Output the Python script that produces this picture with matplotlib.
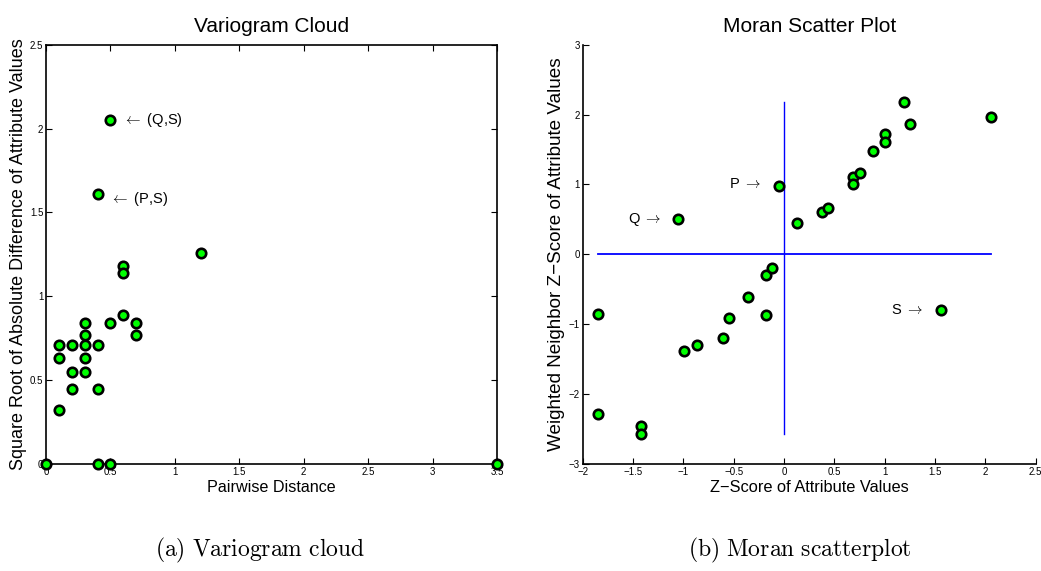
import matplotlib
matplotlib.use("Agg")
import matplotlib.pyplot as plt

plt.rcParams["font.family"] = ["Liberation Sans", "DejaVu Sans"]
plt.rcParams["mathtext.fontset"] = "cm"

# Variogram cloud: pairwise distance vs sqrt of abs difference
dist = [0, 3.5, 0.4, 0.5,
        0.1, 0.1, 0.1,
        0.2, 0.2, 0.2,
        0.3, 0.3, 0.3, 0.3, 0.3,
        0.4, 0.4, 0.4,
        0.5, 0.5,
        0.6, 0.6, 0.6,
        0.7, 0.7,
        1.2]
sqrt_diff = [0, 0, 0, 0,
             0.32, 0.63, 0.71,
             0.71, 0.55, 0.45,
             0.84, 0.77, 0.71, 0.63, 0.55,
             1.61, 0.71, 0.45,
             2.05, 0.84,
             1.18, 1.14, 0.89,
             0.84, 0.77,
             1.26]

# Moran scatter plot: z-score vs weighted neighbour z-score
z = [-1.85, -1.85, -1.42, -1.42, -1.05, -0.99, -0.86, -0.61, -0.55,
     -0.36, -0.18, -0.12, -0.18, -0.05, 0.13, 0.38, 0.44, 0.69, 0.69,
     0.75, 0.88, 1.0, 1.0, 1.19, 1.25, 1.56, 2.06]
wz = [-0.86, -2.29, -2.45, -2.57, 0.51, -1.38, -1.30, -1.20, -0.91,
      -0.61, -0.29, -0.19, -0.87, 0.98, 0.45, 0.60, 0.67, 1.10, 1.01,
      1.17, 1.48, 1.72, 1.61, 2.18, 1.86, -0.80, 1.96]

fig = plt.figure(figsize=(10.41, 5.71), dpi=100)

mk = dict(linestyle="none", marker="o", markersize=6.8, markerfacecolor="#00ff00",
          markeredgecolor="black", markeredgewidth=1.9, clip_on=False, zorder=3)

# ---- left: variogram cloud
ax1 = fig.add_axes([0.0442, 0.1874, 0.4332, 0.7343])
ax1.plot(dist, sqrt_diff, **mk)
ax1.set_xlim(0, 3.5)
ax1.set_ylim(0, 2.5)
ax1.set_xticks([0, 0.5, 1, 1.5, 2, 2.5, 3, 3.5])
ax1.set_xticklabels(["0", "0.5", "1", "1.5", "2", "2.5", "3", "3.5"])
ax1.set_yticks([0, 0.5, 1, 1.5, 2, 2.5])
ax1.set_yticklabels(["0", "0.5", "1", "1.5", "2", "2.5"])
ax1.tick_params(direction="in", top=True, right=True, labelsize=7, length=4, pad=2)
for s in ax1.spines.values():
    s.set_linewidth(1.2)
ax1.set_title("Variogram Cloud", fontsize=15, pad=9)
ax1.set_xlabel("Pairwise Distance", fontsize=11.6, labelpad=2)
ax1.set_ylabel("Square Root of Absolute Difference of Attribute Values", fontsize=13, labelpad=2)
ax1.text(0.6, 2.05, r"$\leftarrow$ (Q,S)", fontsize=10.5, va="center", ha="left")
ax1.text(0.5, 1.58, r"$\leftarrow$ (P,S)", fontsize=10.5, va="center", ha="left")

# ---- right: Moran scatter plot
ax2 = fig.add_axes([0.5597, 0.1874, 0.4352, 0.7343])
ax2.plot([min(z), max(z)], [0, 0], color="blue", linewidth=1.3, zorder=2)
ax2.plot([0, 0], [min(wz), max(wz)], color="blue", linewidth=1.0, zorder=2)
ax2.plot(z, wz, **mk)
ax2.set_xlim(-2, 2.5)
ax2.set_ylim(-3, 3)
ax2.set_xticks([-2, -1.5, -1, -0.5, 0, 0.5, 1, 1.5, 2, 2.5])
ax2.set_xticklabels(["\u22122", "\u22121.5", "\u22121", "\u22120.5", "0", "0.5", "1", "1.5", "2", "2.5"])
ax2.set_yticks([-3, -2, -1, 0, 1, 2, 3])
ax2.set_yticklabels(["\u22123", "\u22122", "\u22121", "0", "1", "2", "3"])
ax2.tick_params(direction="in", labelsize=7, length=4, pad=2)
ax2.spines["top"].set_visible(False)
ax2.spines["right"].set_visible(False)
for s in ("left", "bottom"):
    ax2.spines[s].set_linewidth(1.2)
ax2.set_title("Moran Scatter Plot", fontsize=15, pad=9)
ax2.set_xlabel("Z\u2212Score of Attribute Values", fontsize=11.8, labelpad=2)
ax2.set_ylabel("Weighted Neighbor Z\u2212Score of Attribute Values", fontsize=13.6, labelpad=3)
ax2.text(-1.55, 0.5, r"Q $\rightarrow$", fontsize=10.5, va="center", ha="left")
ax2.text(-0.55, 1.0, r"P $\rightarrow$", fontsize=10.5, va="center", ha="left")
ax2.text(1.06, -0.8, r"S $\rightarrow$", fontsize=10.5, va="center", ha="left")

# captions
fig.text(0.2493, 0.036, r"$\mathrm{(a)\ Variogram\ cloud}$", fontsize=17, ha="center", va="center")
fig.text(0.7685, 0.036, r"$\mathrm{(b)\ Moran\ scatterplot}$", fontsize=17, ha="center", va="center")

fig.savefig("out.png", dpi=100)
